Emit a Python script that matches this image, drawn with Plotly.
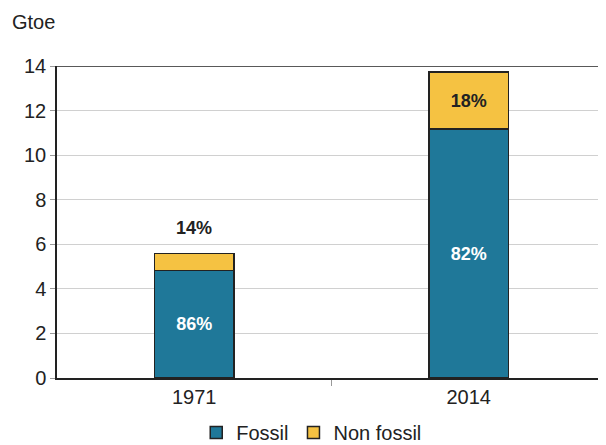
import plotly.graph_objects as go

years = ["1971", "2014"]
fossil = [4.82, 11.17]
non_fossil = [0.76, 2.56]
fossil_share = ["86%", "82%"]
non_fossil_share = ["14%", "18%"]
y_ticks = [0, 2, 4, 6, 8, 10, 12, 14]

FOSSIL_COLOR = "#1f7899"
NONFOSSIL_COLOR = "#f5c242"
EDGE = "#222222"
FONT = "Liberation Sans, Arial, sans-serif"

pos = list(range(len(years)))

fig = go.Figure()
fig.add_trace(go.Bar(
    x=pos, y=fossil, name="Fossil", width=0.29,
    marker=dict(color=FOSSIL_COLOR, line=dict(color=EDGE, width=1.5)),
    text=fossil_share, texttemplate="<b>%{text}</b>",
    textposition="inside", insidetextanchor="middle",
    textfont=dict(color="white", size=18, family=FONT),
    hoverinfo="skip",
))
fig.add_trace(go.Bar(
    x=pos, y=non_fossil, name="Non fossil", width=0.29,
    marker=dict(color=NONFOSSIL_COLOR, line=dict(color=EDGE, width=1.5)),
    text=["", non_fossil_share[1]], texttemplate="<b>%{text}</b>",
    textposition="inside", insidetextanchor="middle",
    textfont=dict(color="#222222", size=18, family=FONT),
    hoverinfo="skip",
))

# the 1971 non-fossil share sits above its bar
fig.add_annotation(
    x=pos[0], y=fossil[0] + non_fossil[0], text="<b>" + non_fossil_share[0] + "</b>",
    showarrow=False, yshift=26, font=dict(size=18, color="#222222", family=FONT),
)

# dark line along the top of the plot area
fig.add_shape(type="line", xref="paper", yref="y", x0=0, x1=1, y0=14, y1=14,
              line=dict(color=EDGE, width=1.5))

fig.add_annotation(
    xref="paper", yref="paper", x=-0.086, y=1.141, xanchor="left", yanchor="middle",
    text="Gtoe", showarrow=False, font=dict(size=20, color="#222222", family=FONT),
)

# page body adds an 8px offset, so the figure is sized to fit the window
fig.update_layout(
    width=598, height=437,
    margin=dict(l=49, r=0, t=58, b=67, autoexpand=False),
    barmode="stack",
    plot_bgcolor="white", paper_bgcolor="white",
    font=dict(family=FONT, size=20, color="#222222"),
    uniformtext=dict(minsize=10, mode="show"),
    showlegend=True,
    legend=dict(orientation="h", x=0.464, xanchor="center", y=-0.175, yanchor="middle",
                font=dict(size=20), traceorder="normal", itemwidth=30),
    xaxis=dict(
        range=[-0.5, 1.5], tickvals=pos, ticktext=years, ticks="",
        minor=dict(tickvals=[0.5], ticks="outside", ticklen=6, tickcolor="#999999"),
        showline=True, linecolor=EDGE, linewidth=1.5, automargin=False,
        showgrid=False, zeroline=False, tickfont=dict(size=20),
    ),
    yaxis=dict(
        range=[0, 14], tickvals=y_ticks, ticks="outside", ticklen=5,
        tickcolor="#999999", showline=True, linecolor=EDGE, linewidth=1.5,
        automargin=False,
        gridcolor="#d0d0d0", gridwidth=1, zeroline=False, tickfont=dict(size=20),
    ),
)

fig.write_html("out.html")
